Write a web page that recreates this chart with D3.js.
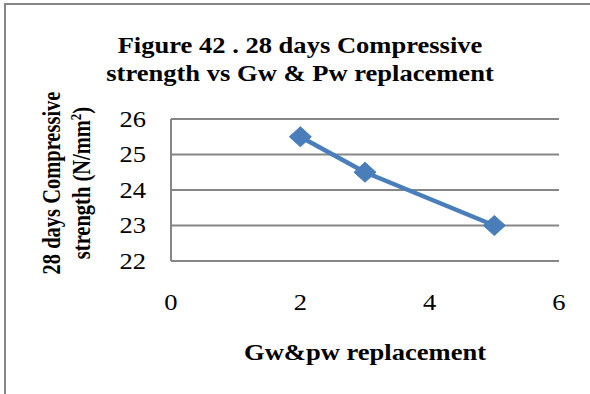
<!DOCTYPE html>
<html>
<head>
<meta charset="utf-8">
<script src="https://cdn.jsdelivr.net/npm/d3@7"></script>
<style>
  html, body { margin: 0; padding: 0; background: #fff; }
  svg { display: block; }
  text { font-family: "Liberation Serif", "Times New Roman", serif; fill: #000; }
</style>
</head>
<body>
<svg id="chart" width="590" height="394"></svg>
<script>
// Replacement level (x) and 28-day compressive strength (y)
const replacement = [2, 3, 5];
const strength = [25.5, 24.5, 23];
const xTicks = [0, 2, 4, 6];
const yTicks = [22, 23, 24, 25, 26];

const svg = d3.select("#chart");
const W = 590, H = 394;
const plot = { left: 171, right: 559, top: 119, bottom: 261 };
const grey = "#868686";
const blue = "#4a7ebb";
// text in this figure is drawn slightly wide
const widen = 1.13;

// place a text label at (px, py), widened horizontally, optionally rotated
function label(parent, px, py, str, opts = {}) {
  const sx = opts.widen || widen;
  const g = parent.append("g")
    .attr("transform", `translate(${px},${py}) scale(${sx},1)` + (opts.rotate ? ` rotate(${opts.rotate})` : ""));
  const t = g.append("text")
    .attr("text-anchor", opts.anchor || "middle")
    .style("font-size", (opts.size || 23.5) + "px")
    .style("font-weight", opts.bold ? "bold" : "normal");
  if (opts.central) t.attr("dominant-baseline", "central");
  t.text(str);
  return t;
}

// Outer frame (top and left edges visible)
svg.append("path")
  .attr("d", `M5,${H} L5,4 L${W},4`)
  .attr("fill", "none").attr("stroke", grey).attr("stroke-width", 2);

const x = d3.scaleLinear().domain([0, 6]).range([plot.left, plot.right]);
const y = d3.scaleLinear().domain([22, 26]).range([plot.bottom, plot.top]);

// Horizontal gridlines
svg.append("g").selectAll("line").data(yTicks).join("line")
  .attr("x1", plot.left).attr("x2", plot.right)
  .attr("y1", d => y(d)).attr("y2", d => y(d))
  .attr("stroke", grey).attr("stroke-width", 2);

// Y axis line
svg.append("line")
  .attr("x1", plot.left).attr("x2", plot.left)
  .attr("y1", plot.top).attr("y2", plot.bottom)
  .attr("stroke", grey).attr("stroke-width", 2);

// Tick labels
const yLab = svg.append("g");
yTicks.forEach(d => label(yLab, 146, y(d), d, { anchor: "end", central: true }));
const xLab = svg.append("g");
xTicks.forEach(d => label(xLab, x(d), 302, d, { central: true }));

// Series line and diamond markers
const pts = replacement.map((r, i) => [r, strength[i]]);
svg.append("path")
  .datum(pts)
  .attr("d", d3.line().x(d => x(d[0])).y(d => y(d[1])))
  .attr("fill", "none").attr("stroke", blue).attr("stroke-width", 4.5)
  .attr("stroke-linejoin", "round");

svg.append("g").selectAll("path").data(pts).join("path")
  .attr("transform", d => `translate(${x(d[0])},${y(d[1])})`)
  .attr("d", "M0,-10 L11,0 L0,10 L-11,0 Z")
  .attr("fill", blue).attr("stroke", blue).attr("stroke-width", 1);

// Chart title
label(svg, 300, 53, "Figure 42 . 28 days Compressive", { bold: true });
label(svg, 300, 81, "strength vs Gw & Pw replacement", { bold: true });

// X axis title
label(svg, 365, 360, "Gw&pw replacement", { bold: true });

// Y axis title (two lines, rotated)
label(svg, 60, 183, "28 days Compressive", { bold: true, size: 20.5, rotate: -90, widen: 1.2 });
const l2 = label(svg, 90, 183, "strength (N/mm", { bold: true, size: 20.5, rotate: -90, widen: 1.2 });
l2.append("tspan").attr("baseline-shift", "super").style("font-size", "13px").text("2");
l2.append("tspan").text(")");
</script>
</body>
</html>
